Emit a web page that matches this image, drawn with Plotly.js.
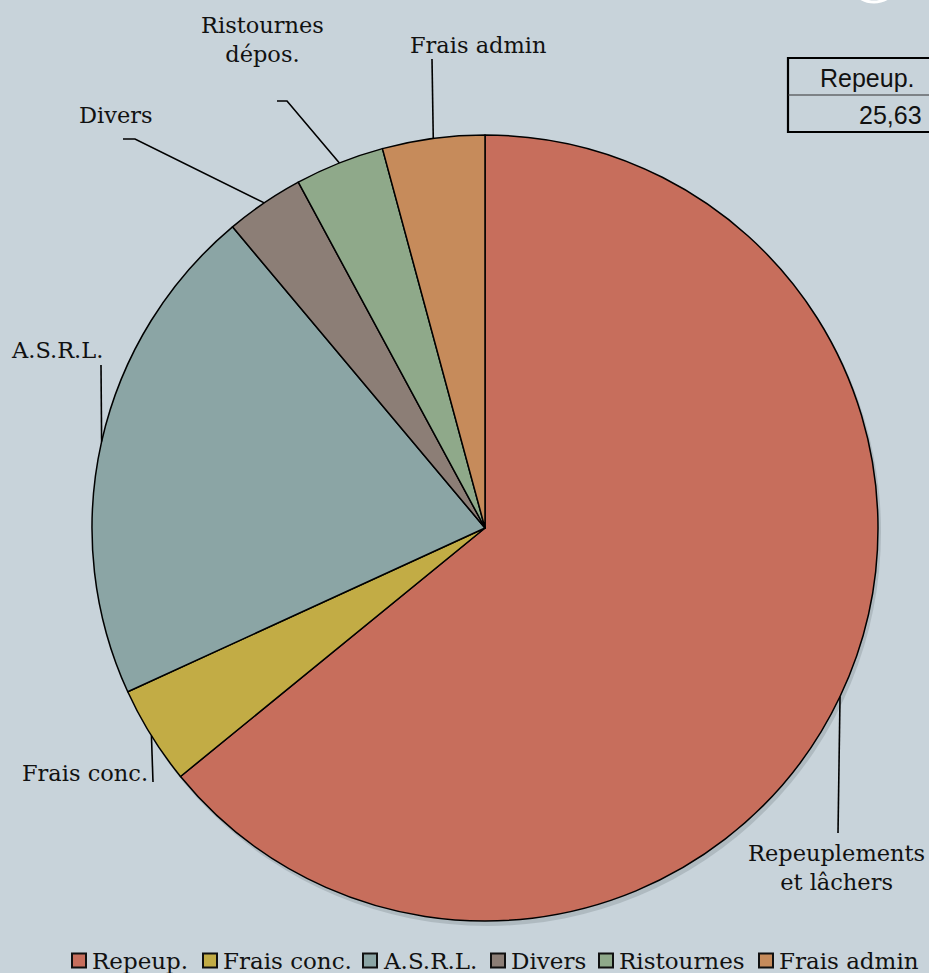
<!DOCTYPE html>
<html>
<head>
<meta charset="utf-8">
<script src="https://cdn.plot.ly/plotly-3.0.1.min.js"></script>
<style>html,body{margin:0;padding:0;background:#c8d3da;}</style>
</head>
<body>
<div id="chart" style="width:929px;height:973px;"></div>
<script>
// ---- data ----
var categories = ["Repeup.", "Frais conc.", "A.S.R.L.", "Divers", "Ristournes", "Frais admin"];
var values = [25.63, 1.62, 8.29, 1.29, 1.47, 1.68];
var sliceLabels = ["Repeuplements<br>et lâchers", "Frais conc.", "A.S.R.L.", "Divers", "Ristournes<br>dépos.", "Frais admin"];
var colors = ["#c76e5c", "#c2ac45", "#8ba5a5", "#8c7e76", "#8fa98a", "#c68b5b"];

// ---- layout geometry ----
var W = 929, H = 973;
var cx = 485, cy = 528, R = 393;
function px(x){ return x / W; }
function py(y){ return 1 - y / H; }

// label placements (text centre, leader elbow points) per slice
var labelPos = [
  {tx: 836, ty: 867, pts: [[838, 833]]},
  {tx: 85,  ty: 773, pts: [[153, 782]]},
  {tx: 57,  ty: 350, pts: [[101, 365]]},
  {tx: 116, ty: 115, pts: [[135, 139], [123, 139]]},
  {tx: 262, ty: 39,  pts: [[287, 101], [277, 101]]},
  {tx: 478, ty: 45,  pts: [[432, 59]]}
];
// legend item left edges (swatch) along the bottom
var legendX = [71, 202, 362, 490, 598, 758];
var legendY = 960;

var total = values.reduce(function(a,b){return a+b;}, 0);
var shapes = [];
var annotations = [];
var cum = 0;
var serif = "DejaVu Serif";

// soft shadow under the pie
shapes.push({type: "circle", xref: "paper", yref: "paper", layer: "below",
             x0: px(cx - R + 2), x1: px(cx + R + 3), y0: py(cy + R + 5), y1: py(cy - R + 3),
             line: {width: 0}, fillcolor: "rgba(60,70,80,0.18)"});

for (var i = 0; i < values.length; i++) {
  var mid = (cum + values[i] / 2) / total * 2 * Math.PI;
  cum += values[i];
  var ex = cx + R * Math.sin(mid);
  var ey = cy - R * Math.cos(mid);
  var lp = labelPos[i];
  var d = "M" + px(ex) + "," + py(ey);
  lp.pts.forEach(function(p){ d += " L" + px(p[0]) + "," + py(p[1]); });
  shapes.push({type: "path", xref: "paper", yref: "paper", path: d,
               line: {color: "#000", width: 1.6}});
  annotations.push({xref: "paper", yref: "paper", x: px(lp.tx), y: py(lp.ty),
                    text: sliceLabels[i], showarrow: false, xanchor: "center", yanchor: "middle",
                    font: {family: serif, size: 22.5, color: "#111"}, align: "center"});

  // legend entry
  var lx = legendX[i];
  shapes.push({type: "rect", xref: "paper", yref: "paper",
               x0: px(lx + 1), x1: px(lx + 15), y0: py(legendY + 7.5), y1: py(legendY - 6.5),
               line: {color: "#111", width: 2}, fillcolor: colors[i]});
  annotations.push({xref: "paper", yref: "paper", x: px(lx + 19), y: py(legendY + 1),
                    text: categories[i], showarrow: false, xanchor: "left", yanchor: "middle",
                    font: {family: serif, size: 23, color: "#111"}});
}

// data table (top right)
shapes.push({type: "rect", xref: "paper", yref: "paper", x0: px(788), x1: px(945), y0: py(132), y1: py(58),
             line: {color: "#000", width: 2.2}, fillcolor: "rgba(0,0,0,0)"});
shapes.push({type: "line", xref: "paper", yref: "paper", x0: px(788), x1: px(945), y0: py(95), y1: py(95),
             line: {color: "#333", width: 1.2}});
annotations.push({xref: "paper", yref: "paper", x: px(917), y: py(78), text: categories[0],
                  showarrow: false, xanchor: "right", yanchor: "middle",
                  font: {family: "Liberation Sans", size: 25, color: "#111"}});
annotations.push({xref: "paper", yref: "paper", x: px(924), y: py(115), text: values[0].toFixed(2).replace(".", ","),
                  showarrow: false, xanchor: "right", yanchor: "middle",
                  font: {family: "Liberation Sans", size: 25, color: "#111"}});

// decorative white arc at top right
shapes.push({type: "circle", xref: "paper", yref: "paper", x0: px(846), x1: px(902), y0: py(2), y1: py(-60),
             line: {color: "#ffffff", width: 3}});

var trace = {
  type: "pie",
  labels: categories,
  values: values,
  sort: false,
  direction: "clockwise",
  rotation: 0,
  textinfo: "none",
  hoverinfo: "label+value+percent",
  marker: {colors: colors, line: {color: "#000", width: 1.5}},
  domain: {x: [px(cx - R), px(cx + R)], y: [py(cy + R), py(cy - R)]}
};

var layout = {
  width: W, height: H,
  margin: {l: 0, r: 0, t: 0, b: 0},
  paper_bgcolor: "#c8d3da",
  plot_bgcolor: "#c8d3da",
  showlegend: false,
  shapes: shapes,
  annotations: annotations
};

Plotly.newPlot("chart", [trace], layout, {displayModeBar: false, staticPlot: true});
</script>
</body>
</html>
